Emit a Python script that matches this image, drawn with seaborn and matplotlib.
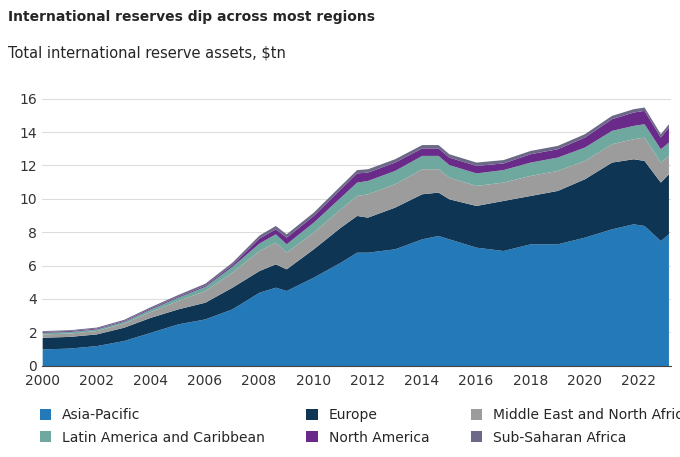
import numpy as np
import matplotlib.pyplot as plt
import seaborn as sns

years = [2000, 2001, 2002, 2003, 2004, 2005, 2006, 2007, 2008, 2008.6, 2009, 2010, 2011, 2011.6,
         2012, 2013, 2014, 2014.6, 2015, 2016, 2017, 2018, 2019, 2020, 2021, 2021.8, 2022.2, 2022.8, 2023.1]
asia = [1.0, 1.05, 1.2, 1.5, 2.0, 2.5, 2.8, 3.4, 4.4, 4.7, 4.5, 5.3, 6.2, 6.8, 6.8, 7.0, 7.6, 7.8, 7.6,
        7.1, 6.9, 7.3, 7.3, 7.7, 8.2, 8.5, 8.4, 7.5, 7.9]
europe = [0.7, 0.7, 0.7, 0.8, 0.9, 0.9, 1.0, 1.3, 1.3, 1.4, 1.3, 1.7, 2.1, 2.2, 2.1, 2.5, 2.7, 2.6, 2.4,
          2.5, 3.0, 2.9, 3.2, 3.5, 4.0, 3.9, 3.9, 3.5, 3.6]
mena = [0.2, 0.2, 0.2, 0.25, 0.35, 0.5, 0.7, 0.9, 1.2, 1.3, 1.0, 1.0, 1.1, 1.2, 1.4, 1.4, 1.5, 1.4, 1.3,
        1.2, 1.1, 1.2, 1.2, 1.1, 1.1, 1.2, 1.4, 1.2, 1.1]
latam = [0.1, 0.1, 0.1, 0.1, 0.15, 0.2, 0.25, 0.35, 0.45, 0.5, 0.5, 0.6, 0.7, 0.8, 0.8, 0.8, 0.8, 0.8,
         0.75, 0.75, 0.75, 0.8, 0.8, 0.8, 0.8, 0.8, 0.8, 0.8, 0.8]
namerica = [0.05, 0.05, 0.05, 0.05, 0.06, 0.06, 0.07, 0.1, 0.3, 0.3, 0.4, 0.4, 0.5, 0.55, 0.5, 0.5, 0.45,
            0.45, 0.45, 0.45, 0.4, 0.5, 0.5, 0.6, 0.7, 0.8, 0.8, 0.7, 0.9]
ssa = [0.05, 0.05, 0.06, 0.07, 0.08, 0.1, 0.12, 0.15, 0.18, 0.2, 0.2, 0.2, 0.2, 0.2, 0.2, 0.2, 0.2, 0.2,
       0.2, 0.2, 0.2, 0.2, 0.2, 0.2, 0.2, 0.2, 0.2, 0.2, 0.2]
labels = ['Asia-Pacific', 'Europe', 'Middle East and North Africa',
          'Latin America and Caribbean', 'North America', 'Sub-Saharan Africa']
colors = ['#2479b8', '#0f3554', '#9c9c9c', '#6ea89f', '#6a2a8a', '#6b6987']

sns.set_style('white')
plt.rcParams['font.family'] = ['DejaVu Sans']

fig = plt.figure(figsize=(6.8, 4.57), dpi=100)
ax = fig.add_axes([0.062, 0.2, 0.925, 0.595])
ax.stackplot(years, asia, europe, mena, latam, namerica, ssa, colors=colors, labels=labels, lw=0)

ax.set_xlim(2000, 2023.2)
ax.set_ylim(0, 16.3)
ax.set_xticks(range(2000, 2023, 2))
ax.set_yticks(range(0, 17, 2))
ax.yaxis.grid(True, color='#dddddd', lw=0.8)
ax.set_axisbelow(True)
for s in ['top', 'right', 'left']:
    ax.spines[s].set_visible(False)
ax.spines['bottom'].set_color('#444444')
ax.tick_params(labelsize=10, colors='#333333', length=0)
ax.tick_params(axis='x', pad=6)

fig.text(0.012, 0.955, 'International reserves dip across most regions', fontsize=10, fontweight='bold')
fig.text(0.012, 0.875, 'Total international reserve assets, $tn', fontsize=10.5)

# legend fills by column, so reorder to read row-wise
handles, labs = ax.get_legend_handles_labels()
order = [0, 3, 1, 4, 2, 5]
fig.legend([handles[i] for i in order], [labs[i] for i in order], loc='lower left',
           bbox_to_anchor=(0.04, 0.0), ncol=3, frameon=False, fontsize=10,
           handlelength=0.8, handleheight=0.8, columnspacing=3.0, labelspacing=0.6)

fig.savefig('out.png', dpi=100)
